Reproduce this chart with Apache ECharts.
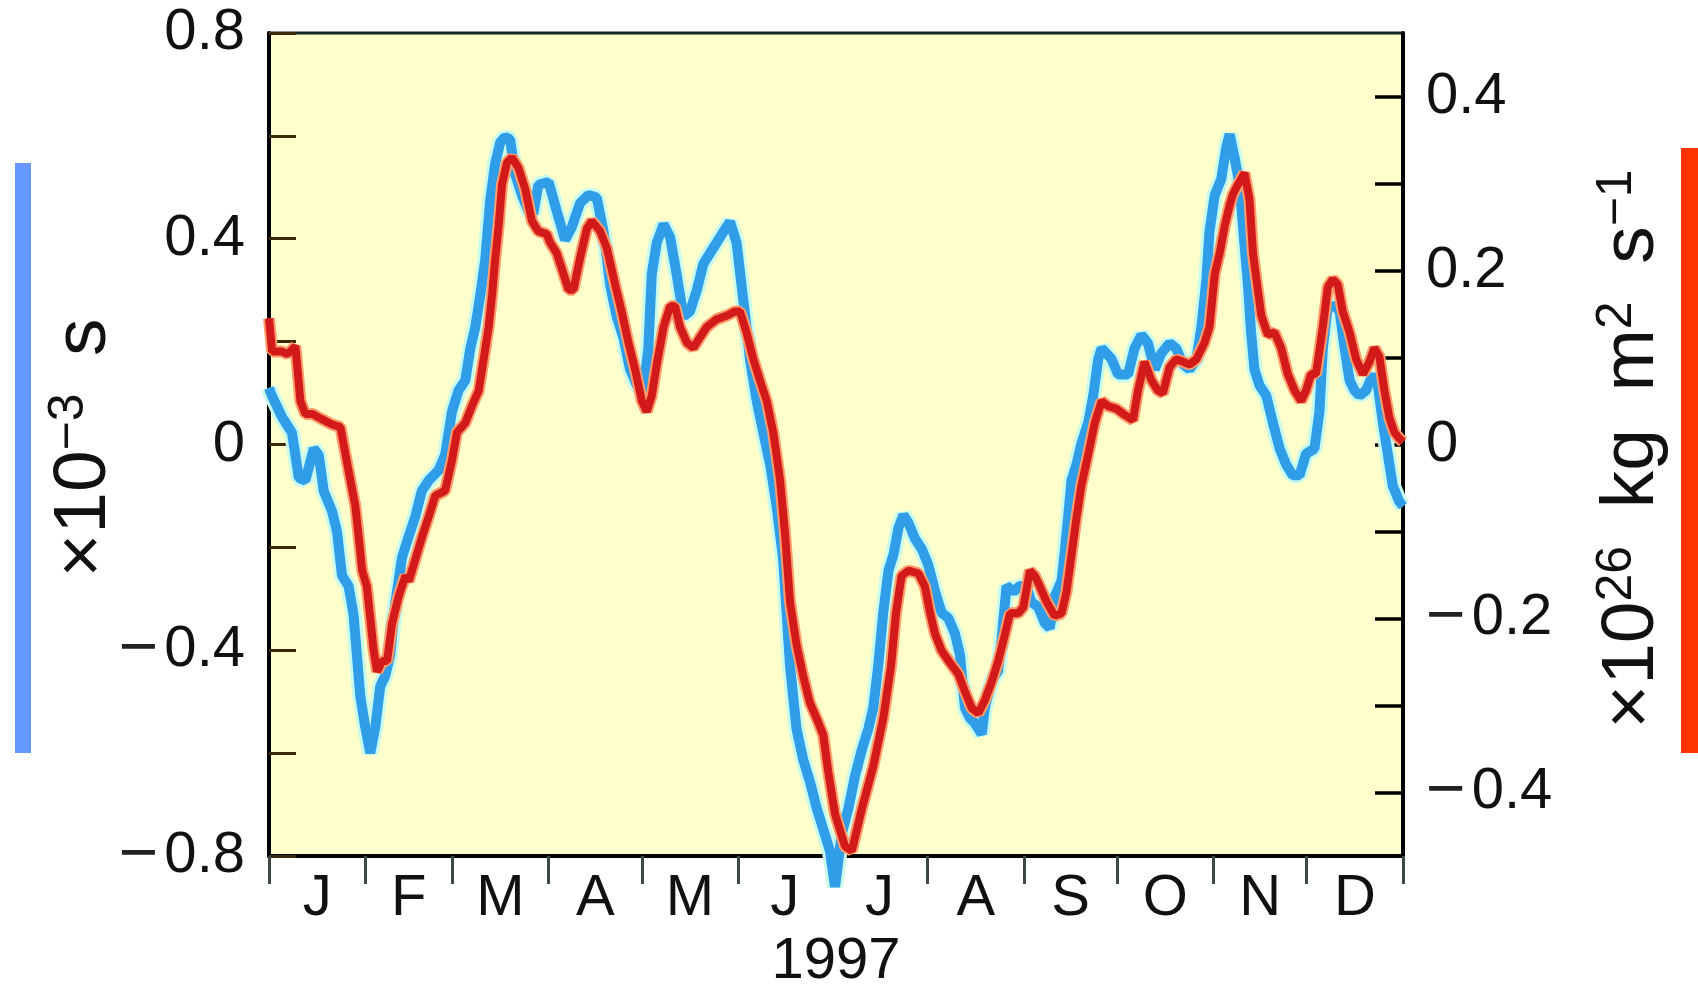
<!DOCTYPE html>
<html><head><meta charset="utf-8">
<script src="https://cdn.jsdelivr.net/npm/echarts@6/dist/echarts.min.js"></script>
<style>html,body{margin:0;padding:0;background:#fff}#c{width:1698px;height:1000px}</style>
</head><body><div id="c"></div>
<script>
// ---- axis tick data ----
const monthStarts = [0,31,59,90,120,151,181,212,243,273,304,334,365];
const monthMids = [15.5,45,74.5,105,135.5,166,196.5,227.5,258,288.5,319,349.5];
const monthLabels = ['J','F','M','A','M','J','J','A','S','O','N','D'];
const yearLabel = '1997';
const leftTicks = [-0.8,-0.6,-0.4,-0.2,0,0.2,0.4,0.6,0.8];
const leftLabelVals = [-0.8,-0.4,0,0.4,0.8];
const leftLabels = ['{d|\u2212}0.8','{d|\u2212}0.4','0','0.4','0.8'];
const rightTicks = [-0.4,-0.3,-0.2,-0.1,0,0.1,0.2,0.3,0.4];
const rightLabelVals = [-0.4,-0.2,0,0.2,0.4];
const rightLabels = ['{d|\u2212}0.4','{d|\u2212}0.2','0','0.2','0.4'];

// ---- blue series: length of day (x10^-3 s), day of year 1997 ----
const lodDays = [0,1,4.2,7.4,9.6,11.7,14.4,16,17.6,20.3,21.9,23.5,25.6,27.2,28.3,29.4,31,32.6,34.2,35.8,37.4,39,40.6,42.8,44.9,47.1,49.2,51.4,54.6,56.7,58.9,61,63.2,64.8,66.4,68,69.6,71.2,72.8,74.4,76,77.6,79.2,81.4,83.5,85.1,86.7,90,92.6,95.3,97.5,100.1,102.8,105.5,107.7,109.8,111.9,114.1,116.2,118.4,120.5,122.1,123.2,124.8,127,129.1,131.2,133.4,135.5,137.7,139.8,143,146.2,148.4,150.5,152.1,153.7,154.8,157,159.1,161.3,163.4,165.5,166.6,167.7,169.8,172,174.1,176.3,178.4,180.5,182.2,184.3,186.5,188.6,190.8,192.9,194.5,196.1,197.7,199.4,201,202.6,204.2,205.8,207.9,210.1,212.2,214.4,216.5,218.6,220.8,222.4,224,225.6,227.2,229.4,230.4,232.6,234.7,235.8,237.4,239.6,241.7,243.8,245.4,247.6,249.7,251.3,252.9,255.1,256.2,257.2,258.3,259.9,261.5,263.7,265.3,266.9,268,269.6,271.2,273.3,276.5,278.6,280.8,282.9,285.1,287.2,289.9,292,294.2,296.3,298.5,300.1,301.7,302.7,304.4,306.5,308.1,309.2,310.8,312.4,313.5,315.1,316.1,317.2,318.8,321,323.1,325.3,327.4,329.5,331.7,333.8,336.5,338.1,339.2,340.8,343,344.6,346.2,347.8,349.4,351,353.1,355.3,356.9,358.5,360.1,361.7,363.8,365];
const lodVals = [0.11,0.094,0.053,0.023,-0.065,-0.07,-0.008,-0.02,-0.09,-0.13,-0.17,-0.255,-0.275,-0.33,-0.41,-0.49,-0.55,-0.6,-0.55,-0.47,-0.45,-0.41,-0.31,-0.22,-0.18,-0.14,-0.09,-0.07,-0.05,-0.02,0.064,0.105,0.125,0.187,0.228,0.29,0.36,0.475,0.546,0.587,0.598,0.593,0.526,0.485,0.454,0.449,0.505,0.51,0.454,0.398,0.423,0.469,0.485,0.48,0.413,0.31,0.249,0.207,0.146,0.115,0.105,0.187,0.331,0.392,0.428,0.403,0.331,0.249,0.259,0.3,0.351,0.382,0.413,0.433,0.392,0.31,0.228,0.166,0.084,0.023,-0.039,-0.121,-0.224,-0.327,-0.43,-0.553,-0.614,-0.655,-0.707,-0.748,-0.789,-0.86,-0.758,-0.707,-0.645,-0.594,-0.553,-0.512,-0.43,-0.327,-0.245,-0.214,-0.162,-0.137,-0.152,-0.183,-0.203,-0.234,-0.286,-0.327,-0.337,-0.368,-0.409,-0.512,-0.532,-0.542,-0.563,-0.512,-0.46,-0.44,-0.378,-0.275,-0.286,-0.275,-0.275,-0.306,-0.316,-0.347,-0.357,-0.296,-0.265,-0.203,-0.142,-0.07,-0.039,0.002,0.043,0.095,0.166,0.187,0.177,0.166,0.136,0.136,0.187,0.213,0.197,0.146,0.177,0.197,0.187,0.156,0.146,0.166,0.228,0.32,0.413,0.485,0.516,0.577,0.603,0.557,0.505,0.423,0.31,0.218,0.146,0.115,0.095,0.043,-0.008,-0.039,-0.06,-0.06,-0.018,-0.008,0.064,0.187,0.269,0.269,0.259,0.187,0.125,0.105,0.095,0.105,0.136,0.115,0.043,-0.018,-0.08,-0.111,-0.12];

// ---- red series: atmospheric angular momentum (x10^26 kg m^2 s^-1) ----
const aamDays = [0,1,4,6,8.5,10.1,11.7,14,16,17.6,20.3,23,24.6,26.2,27.8,28.9,30,31.5,32.6,33.7,34.8,36.4,38,39.6,41.7,43.9,45,49.2,51.4,53.5,56.7,58.9,60.5,63.2,65.3,67.5,69.1,70.7,71.8,72.8,73.9,75,76.6,78.2,80.3,82.5,84.6,86.7,89.4,90.5,92.6,94.8,96.4,98,100.1,102.3,103.9,106.6,108.7,111.4,113.5,115.7,117.8,120,121.6,123.2,124.8,127,129.1,130.7,132.3,134.5,136.6,138.7,140.9,144.1,147.3,150,151.6,153.7,155.9,158,160.2,162.3,164.5,166.1,167.7,169.8,172,174.1,176.3,178.4,180,181.6,182.2,185.4,187.6,190.8,194.5,197.7,200.2,201.8,203.6,205.8,209,211.1,212.8,214.4,216.5,219.2,221.9,224,226.2,228.3,230.4,232.6,234.7,236.9,238.5,241.2,242.8,244.9,246.5,248.1,250.3,252.9,255.1,256.7,258.3,259.9,261.5,263.7,265.8,268,270.1,272.8,275,278.1,279.7,281.8,284,286.1,287.7,289.9,292,294.2,296.3,298.5,301.1,302.7,304.4,306,307.6,309.2,310.2,311.9,314,315.6,316.7,317.8,319.4,321.5,323.6,325.8,327.9,330.1,332.2,333.8,335.4,337,339.2,340.8,342.4,344,345.6,347.8,349.9,352.1,354.2,355.8,357.4,359,360.6,362.2,363.8,365];
const aamVals = [0.145,0.107,0.107,0.104,0.113,0.05,0.035,0.035,0.031,0.028,0.023,0.02,-0.011,-0.041,-0.071,-0.107,-0.145,-0.163,-0.2,-0.237,-0.261,-0.249,-0.249,-0.206,-0.175,-0.151,-0.157,-0.107,-0.083,-0.059,-0.053,-0.018,0.014,0.025,0.044,0.062,0.098,0.135,0.172,0.213,0.251,0.299,0.324,0.33,0.318,0.293,0.257,0.245,0.242,0.232,0.22,0.196,0.178,0.178,0.214,0.248,0.257,0.245,0.226,0.184,0.153,0.117,0.087,0.05,0.038,0.056,0.092,0.135,0.159,0.159,0.135,0.117,0.111,0.123,0.135,0.144,0.148,0.153,0.153,0.129,0.098,0.074,0.05,0.014,-0.041,-0.103,-0.181,-0.23,-0.267,-0.297,-0.315,-0.334,-0.376,-0.412,-0.425,-0.462,-0.467,-0.419,-0.37,-0.315,-0.255,-0.194,-0.151,-0.145,-0.148,-0.163,-0.194,-0.218,-0.237,-0.251,-0.264,-0.284,-0.303,-0.309,-0.294,-0.273,-0.249,-0.218,-0.194,-0.194,-0.187,-0.145,-0.151,-0.163,-0.181,-0.197,-0.194,-0.169,-0.127,-0.084,-0.047,-0.011,0.025,0.05,0.044,0.041,0.035,0.028,0.062,0.095,0.074,0.062,0.059,0.089,0.098,0.095,0.092,0.098,0.117,0.135,0.196,0.22,0.251,0.275,0.287,0.299,0.312,0.281,0.22,0.19,0.148,0.126,0.129,0.111,0.081,0.062,0.05,0.062,0.081,0.081,0.135,0.181,0.19,0.184,0.153,0.129,0.098,0.081,0.095,0.111,0.101,0.062,0.031,0.014,0.007,0.003];

const leftTitle = '{m|\u00d710}{s|\u22123}{m|\u2002s}';
const rightTitle = '{m|\u00d710}{s|26}{m|\u2002kg\u2002m}{s|2}{m|\u2002s}{s|\u22121}';

const FONT = '"Liberation Sans", Arial, sans-serif';
const pairs = (xs, ys) => xs.map((x, i) => [x, ys[i]]);
const pick = (vals, labels) => v => {
  const i = vals.findIndex(t => Math.abs(t - v) < 1e-6);
  return i >= 0 ? labels[i] : '';
};
const lodData = pairs(lodDays, lodVals);
const aamData = pairs(aamDays, aamVals);
const minusRich = {d: {fontFamily: FONT, fontSize: 68, color: '#222', padding: [0, 6, 0, 0]}};

const chart = echarts.init(document.getElementById('c'), null, {renderer: 'canvas'});
const titleRich = {
  m: {fontSize: 75, lineHeight: 80, fontFamily: FONT, fill: '#111', color: '#111'},
  s: {fontSize: 50, lineHeight: 32, fontFamily: FONT, verticalAlign: 'top', fill: '#111', color: '#111'}
};
chart.setOption({
  animation: false,
  backgroundColor: '#ffffff',
  grid: {left: 269, right: 295, top: 33, bottom: 144, show: true,
         backgroundColor: '#ffffcc', borderColor: '#132626', borderWidth: 3},
  xAxis: {
    type: 'value', min: 0, max: 365,
    name: yearLabel, nameLocation: 'middle', nameGap: 77,
    nameTextStyle: {fontFamily: FONT, fontSize: 58, color: '#111'},
    axisLine: {show: true, onZero: false, lineStyle: {color: '#000', width: 4}},
    axisTick: {show: true, customValues: monthStarts, length: 28, inside: false,
               lineStyle: {color: '#3a4a40', width: 3}},
    axisLabel: {customValues: monthMids, formatter: pick(monthMids, monthLabels),
                margin: 14, fontFamily: FONT, fontSize: 58, color: '#111'},
    splitLine: {show: false}
  },
  yAxis: [{
    type: 'value', position: 'left', min: -0.8, max: 0.8,
    axisLine: {show: true, onZero: false, lineStyle: {color: '#000', width: 4}},
    axisTick: {show: true, inside: true, length: 27, customValues: leftTicks,
               lineStyle: {color: '#3a2a08', width: 3}},
    axisLabel: {customValues: leftLabelVals, formatter: pick(leftLabelVals, leftLabels),
                margin: 24, fontFamily: FONT, fontSize: 58, color: '#111', rich: minusRich},
    splitLine: {show: false}
  }, {
    type: 'value', position: 'right', min: -0.473, max: 0.473,
    axisLine: {show: true, onZero: false, lineStyle: {color: '#000', width: 4}},
    axisTick: {show: true, inside: true, length: 28, customValues: rightTicks,
               lineStyle: {color: '#000', width: 3.5}},
    axisLabel: {customValues: rightLabelVals, formatter: pick(rightLabelVals, rightLabels),
                margin: 23, fontFamily: FONT, fontSize: 58, color: '#111', rich: minusRich},
    splitLine: {show: false}
  }],
  series: [
    {type: 'line', yAxisIndex: 0, data: lodData, symbol: 'none', clip: false, z: 2,
     lineStyle: {color: '#c6fbee', width: 16}, silent: true},
    {type: 'line', yAxisIndex: 0, data: lodData, symbol: 'none', clip: false, z: 3,
     lineStyle: {color: '#2f9de8', width: 10}},
    {type: 'line', yAxisIndex: 1, data: aamData, symbol: 'none', clip: false, z: 4,
     lineStyle: {color: '#ff9c6c', width: 12}, silent: true},
    {type: 'line', yAxisIndex: 1, data: aamData, symbol: 'none', clip: false, z: 5,
     lineStyle: {color: '#d21a1a', width: 8}}
  ],
  graphic: [
    {type: 'rect', shape: {x: 15, y: 163, width: 16, height: 590}, style: {fill: '#6699ff'}},
    {type: 'rect', shape: {x: 1681, y: 148, width: 17, height: 605}, style: {fill: '#ff3300'}},
    {type: 'text', x: 84, y: 448, rotation: Math.PI / 2,
     style: {text: leftTitle, rich: titleRich, fill: '#111', fontFamily: FONT, fontSize: 75,
             align: 'center', verticalAlign: 'middle', textAlign: 'center', textVerticalAlign: 'middle'}},
    {type: 'text', x: 1632, y: 449, rotation: Math.PI / 2,
     style: {text: rightTitle, rich: titleRich, fill: '#111', fontFamily: FONT, fontSize: 75,
             align: 'center', verticalAlign: 'middle', textAlign: 'center', textVerticalAlign: 'middle'}}
  ]
});
</script></body></html>
